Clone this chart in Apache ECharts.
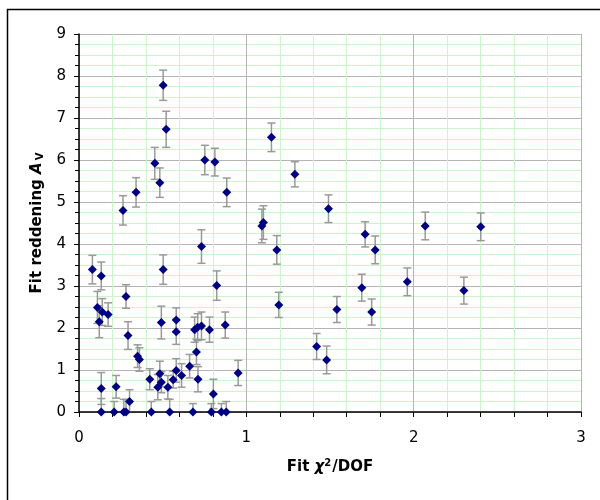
<!DOCTYPE html>
<html>
<head>
<meta charset="utf-8">
<script src="https://cdn.jsdelivr.net/npm/echarts@6/dist/echarts.min.js"></script>
<style>html,body{margin:0;padding:0;background:#fff;}#c{width:600px;height:500px;}</style>
</head>
<body>
<div id="c"></div>
<script>
// Fit chi^2/DOF
var chi2 = [0.080,0.133,0.110,0.121,0.139,0.174,0.281,0.263,0.341,0.293,0.350,0.361,0.133,0.133,0.222,0.210,0.268,0.281,0.302,0.423,
            0.432,0.453,0.483,0.503,0.521,0.503,0.492,0.483,0.471,0.492,0.531,0.542,0.563,0.581,0.581,0.581,0.613,0.661,0.681,0.691,
            0.702,0.709,0.711,0.732,0.732,0.752,0.780,0.791,0.803,0.812,0.823,0.851,0.874,0.880,0.883,0.951,1.093,1.102,1.150,1.182,
            1.194,1.290,1.420,1.480,1.491,1.541,1.690,1.710,1.749,1.770,1.962,2.069,2.300,2.401];
// Fit reddening A_V
var av = [3.39,3.24,2.49,2.15,2.38,2.32,2.75,4.80,5.23,1.82,1.33,1.25,0.56,0,0.60,0,0,0,0.25,0.78,
          0,5.92,5.46,7.78,6.73,3.39,2.13,0.91,0.59,0.71,0.59,0,0.77,0.99,2.19,1.91,0.87,1.09,0,1.96,
          1.43,2.02,0.78,2.05,3.94,6.00,1.96,0,0.43,5.95,3.01,0,2.07,0,5.23,0.93,4.43,4.51,6.54,3.86,
          2.55,5.66,1.56,1.24,4.84,2.44,2.96,4.23,2.38,3.86,3.10,4.43,2.89,4.41];
// error on A_V
var avErr = [0.34,0.33,0.38,0.38,0.32,0.28,0.28,0.35,0.35,0.33,0.27,0.28,0.38,0.32,0.27,0.25,0.30,0.30,0.28,0.25,
             0.25,0.38,0.35,0.36,0.43,0.35,0.39,0.30,0.30,0.25,0.28,0.30,0.20,0.28,0.29,0.30,0.28,0.28,0.20,0.30,
             0.30,0.32,0.30,0.33,0.40,0.35,0.30,0.20,0.35,0.33,0.35,0.20,0.31,0.25,0.34,0.30,0.40,0.40,0.34,0.34,
             0.30,0.30,0.31,0.33,0.33,0.31,0.32,0.30,0.31,0.33,0.33,0.33,0.32,0.33];
var xTicks = [0,1,2,3];
var yTicks = [0,1,2,3,4,5,6,7,8,9];

var pts = chi2.map(function(x,i){return [x, av[i], avErr[i]];});

var chart = echarts.init(document.getElementById('c'), null, {renderer:'canvas'});
var font = 'DejaVu Sans, Verdana, sans-serif';
chart.setOption({
  animation:false,
  backgroundColor:'#fff',
  graphic:[{type:'rect', left:5, top:7, shape:{x:0,y:0,width:620,height:520}, style:{fill:'none', stroke:'#000', lineWidth:1.5}, z:100, silent:true}],
  grid:{left:79, right:19, top:34, bottom:88},
  xAxis:{
    type:'value', min:xTicks[0], max:xTicks[xTicks.length-1], interval:1,
    name:'{b|Fit }{i|χ}{p|2}{b|/DOF}', nameLocation:'middle', nameGap:46,
    nameTextStyle:{fontFamily:font, fontWeight:'bold', fontSize:15, color:'#000',
      rich:{b:{fontFamily:font, fontWeight:'bold', fontSize:15, color:'#000'},
            i:{fontFamily:font, fontWeight:'bold', fontStyle:'italic', fontSize:15, color:'#000'},
            p:{fontFamily:font, fontWeight:'bold', fontSize:10, color:'#000', padding:[0,1,8,0]}}},
    axisLine:{show:true, onZero:false, lineStyle:{color:'#000', width:1.5}},
    axisTick:{show:true, inside:false, length:5, lineStyle:{color:'#000'}},
    minorTick:{show:true, splitNumber:5, length:5, lineStyle:{color:'#000'}},
    axisLabel:{fontFamily:font, fontSize:15, color:'#000', margin:19},
    splitLine:{show:true, lineStyle:{color:'#b4b4b4', width:1}},
    minorSplitLine:{show:true, lineStyle:{color:'#ccf5cc', width:1}}
  },
  yAxis:{
    type:'value', min:yTicks[0], max:yTicks[yTicks.length-1], interval:1,
    name:'{b|Fit reddening }{i|A}{s|V}', nameLocation:'middle', nameGap:33, nameRotate:90,
    nameTextStyle:{fontFamily:font, fontWeight:'bold', fontSize:15, color:'#000',
      rich:{b:{fontFamily:font, fontWeight:'bold', fontSize:15, color:'#000'},
            i:{fontFamily:font, fontWeight:'bold', fontStyle:'italic', fontSize:15, color:'#000'},
            s:{fontFamily:font, fontWeight:'bold', fontSize:10, color:'#000', padding:[6,0,0,2]}}},
    axisLine:{show:true, onZero:false, lineStyle:{color:'#000', width:1.5}},
    axisTick:{show:true, inside:false, length:5, lineStyle:{color:'#000'}},
    minorTick:{show:true, splitNumber:4, length:4, lineStyle:{color:'#000'}},
    axisLabel:{fontFamily:font, fontSize:15, color:'#000', margin:13},
    splitLine:{show:true, lineStyle:{color:'#b4b4b4', width:1}},
    minorSplitLine:{show:true, lineStyle:{color:'#ccf5cc', width:1}}
  },
  series:[
    {
      type:'custom', clip:true, z:2,
      data:pts,
      encode:{x:0, y:1},
      renderItem:function(params, api){
        var x = api.value(0), y = api.value(1), e = api.value(2);
        var top = api.coord([x, y+e]);
        var bot = api.coord([x, y-e]);
        var hw = 4;
        var st = {stroke:'#999', lineWidth:1.5};
        return {type:'group', children:[
          {type:'line', shape:{x1:top[0], y1:top[1], x2:bot[0], y2:bot[1]}, style:st},
          {type:'line', shape:{x1:top[0]-hw, y1:top[1], x2:top[0]+hw, y2:top[1]}, style:st},
          {type:'line', shape:{x1:bot[0]-hw, y1:bot[1], x2:bot[0]+hw, y2:bot[1]}, style:st}
        ]};
      }
    },
    {
      type:'scatter', z:3, symbol:'diamond', symbolSize:9,
      itemStyle:{color:'#000080', opacity:1},
      data:pts.map(function(p){return [p[0], p[1]];})
    }
  ]
});
</script>
</body>
</html>
